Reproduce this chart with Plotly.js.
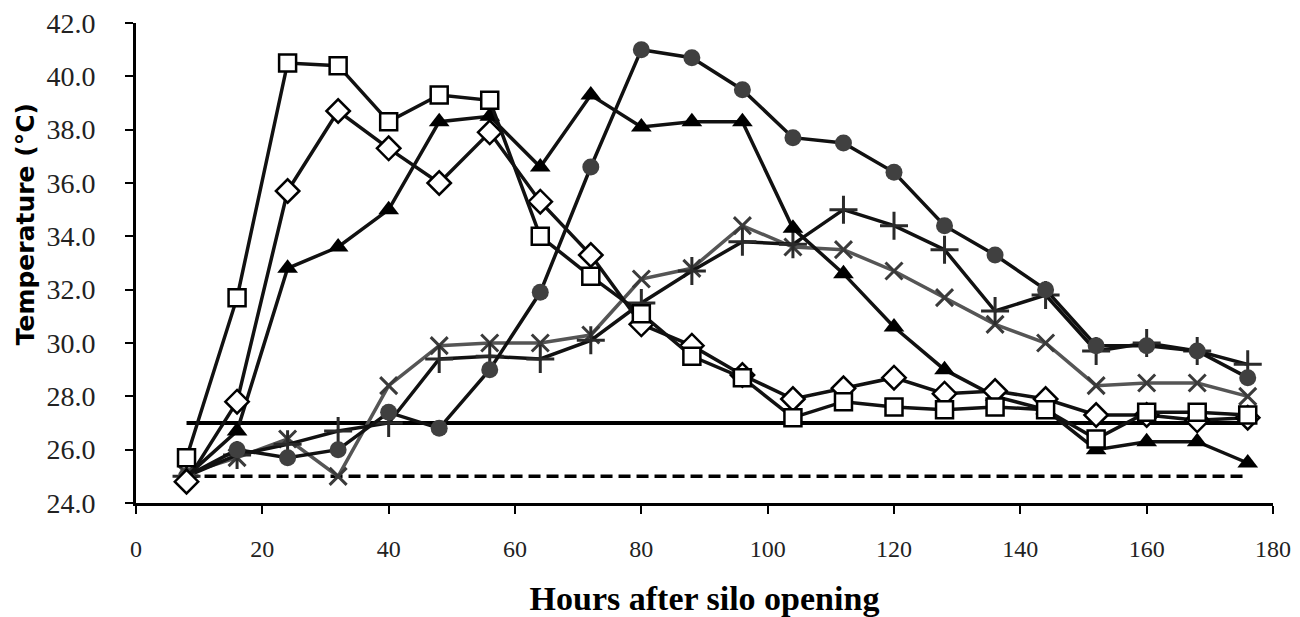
<!DOCTYPE html>
<html>
<head>
<meta charset="utf-8">
<script src="https://cdn.plot.ly/plotly-3.0.1.min.js"></script>
<style>
  html, body { margin: 0; padding: 0; background: #fff; }
  #chart { width: 1300px; height: 617px; }
</style>
</head>
<body>
<div id="chart"></div>
<script>
// Hours after silo opening
const hours = [8, 16, 24, 32, 40, 48, 56, 64, 72, 80, 88, 96, 104, 112, 120, 128, 136, 144, 152, 160, 168, 176];

// Temperature series (°C)
const squares   = [25.7, 31.7, 40.5, 40.4, 38.3, 39.3, 39.1, 34.0, 32.5, 31.1, 29.5, 28.7, 27.2, 27.8, 27.6, 27.5, 27.6, 27.5, 26.4, 27.4, 27.4, 27.3];
const diamonds  = [24.8, 27.8, 35.7, 38.7, 37.3, 36.0, 37.9, 35.3, 33.3, 30.7, 29.9, 28.8, 27.9, 28.3, 28.7, 28.1, 28.2, 27.9, 27.3, 27.3, 27.1, 27.2];
const triangles = [25.0, 26.7, 32.8, 33.6, 35.0, 38.3, 38.5, 36.6, 39.3, 38.1, 38.3, 38.3, 34.3, 32.6, 30.6, 29.0, 28.0, 27.5, 26.0, 26.3, 26.3, 25.5];
const circles   = [25.0, 26.0, 25.7, 26.0, 27.4, 26.8, 29.0, 31.9, 36.6, 41.0, 40.7, 39.5, 37.7, 37.5, 36.4, 34.4, 33.3, 32.0, 29.9, 29.9, 29.7, 28.7];
const crosses   = [25.1, 25.7, 26.4, 25.0, 28.4, 29.9, 30.0, 30.0, 30.3, 32.4, 32.8, 34.4, 33.6, 33.5, 32.7, 31.7, 30.7, 30.0, 28.4, 28.5, 28.5, 28.0];
const pluses    = [25.0, 25.8, 26.2, 26.7, 27.0, 29.4, 29.5, 29.4, 30.1, 31.5, 32.7, 33.8, 33.7, 35.0, 34.4, 33.5, 31.2, 31.8, 29.7, 30.0, 29.7, 29.2];

// Reference lines
const refHours = [8, 176];
const refSolid = [27.0, 27.0];
const refDashed = [25.0, 25.0];

// Axis ticks
const yTicks = [24, 26, 28, 30, 32, 34, 36, 38, 40, 42];
const xTicks = [0, 20, 40, 60, 80, 100, 120, 140, 160, 180];

const traces = [
  { x: refHours, y: refDashed, mode: 'lines', line: { color: '#000', width: 3.5, dash: '12px,6px' }, hoverinfo: 'skip' },
  { x: refHours, y: refSolid, mode: 'lines', line: { color: '#000', width: 4 }, hoverinfo: 'skip' },
  { x: hours, y: crosses, mode: 'lines+markers', line: { color: '#555', width: 3.5 },
    marker: { symbol: 'x-thin', size: 17, line: { color: '#3a3a3a', width: 3 } } },
  { x: hours, y: pluses, mode: 'lines+markers', line: { color: '#111', width: 3.5 },
    marker: { symbol: 'cross-thin', size: 20, line: { color: '#2a2a2a', width: 3 } } },
  { x: hours, y: circles, mode: 'lines+markers', line: { color: '#111', width: 3.5 },
    marker: { symbol: 'circle', size: 17, color: '#404040' } },
  { x: hours, y: triangles, mode: 'lines+markers', line: { color: '#111', width: 3.5 },
    marker: { symbol: 'triangle-up', size: 18, color: '#000' } },
  { x: hours, y: diamonds, mode: 'lines+markers', line: { color: '#111', width: 3.5 },
    marker: { symbol: 'diamond', size: 18, color: '#fff', line: { color: '#000', width: 2.5 } } },
  { x: hours, y: squares, mode: 'lines+markers', line: { color: '#111', width: 3.5 },
    marker: { symbol: 'square', size: 17, color: '#fff', line: { color: '#000', width: 2.5 } } }
];

const layout = {
  width: 1300, height: 617,
  margin: { l: 136, r: 27, t: 23, b: 114 },
  paper_bgcolor: '#fff', plot_bgcolor: '#fff',
  showlegend: false,
  font: { family: '"Liberation Serif", "Times New Roman", serif', color: '#000' },
  xaxis: {
    range: [0, 180], tickvals: xTicks, ticktext: xTicks.map(String),
    showgrid: false, zeroline: false, showline: true, linecolor: '#000', linewidth: 3,
    ticks: 'outside', ticklen: 8, tickwidth: 2, tickcolor: '#000',
    tickfont: { family: '"Liberation Serif", serif', size: 24, color: '#222' },
    ticklabelstandoff: 14,
    title: { text: 'Hours after silo opening', standoff: 30,
      font: { family: '"Liberation Serif", serif', size: 34, color: '#000', weight: 'bold' } }
  },
  yaxis: {
    range: [24, 42], tickvals: yTicks, ticktext: yTicks.map(v => v.toFixed(1)),
    showgrid: false, zeroline: false, showline: true, linecolor: '#000', linewidth: 3,
    ticks: 'outside', ticklen: 8, tickwidth: 2, tickcolor: '#000',
    tickfont: { family: '"Liberation Serif", serif', size: 28, color: '#222' },
    ticklabelstandoff: 24
  },
  annotations: [
    { text: 'Temperature (°C)', textangle: -90, showarrow: false,
      xref: 'paper', yref: 'paper', x: -0.097, y: 0.58, xanchor: 'center', yanchor: 'middle',
      font: { family: '"DejaVu Sans", sans-serif', size: 25, color: '#000', weight: 'bold' } }
  ]
};

Plotly.newPlot('chart', traces, layout, { displayModeBar: false, staticPlot: true });
</script>
</body>
</html>
